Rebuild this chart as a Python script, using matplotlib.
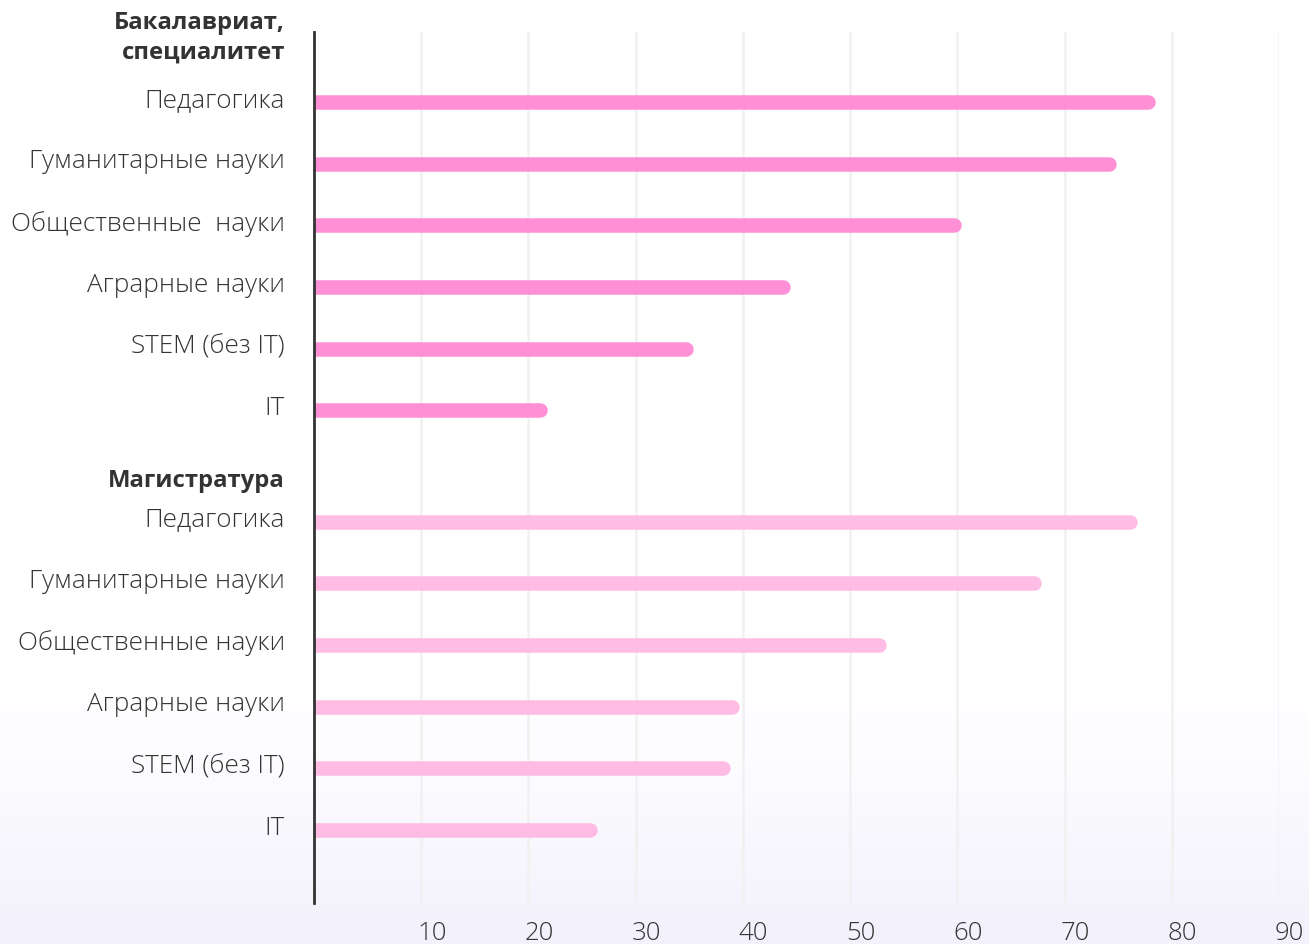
import matplotlib
matplotlib.use("Agg")
import matplotlib.pyplot as plt
import matplotlib.transforms as mtransforms
import numpy as np
from matplotlib.colors import LinearSegmentedColormap

plt.rcParams['font.family'] = ['Open Sans', 'DejaVu Sans']

# ---- data ----
group_titles = ["Бакалавриат,\nспециалитет", "Магистратура"]
cats_bak = ["Педагогика", "Гуманитарные науки", "Общественные  науки",
            "Аграрные науки", "STEM (без IT)", "IT"]
cats_mag = ["Педагогика", "Гуманитарные науки", "Общественные науки",
            "Аграрные науки", "STEM (без IT)", "IT"]
vals_bak = [78.5, 74.8, 60.4, 44.4, 35.4, 21.8]
vals_mag = [76.8, 67.8, 53.4, 39.7, 38.8, 26.4]
xticks = [10, 20, 30, 40, 50, 60, 70, 80, 90]

col_bak = "#ff8cd4"
col_mag = "#ffbae4"
text_col = "#333333"

W, H = 1309, 944
fig = plt.figure(figsize=(W / 100, H / 100), dpi=100)

# background gradient
bg = fig.add_axes([0, 0, 1, 1], zorder=-10)
bg.set_axis_off()
grad = np.linspace(0, 1, 256).reshape(-1, 1)
cmap = LinearSegmentedColormap.from_list(
    "g", [(0, "#f3f1fc"), (0.08, "#f7f6fd"), (0.2, "#fdfcff"), (0.28, "#ffffff"), (1, "#ffffff")])
bg.imshow(grad, aspect="auto", cmap=cmap, extent=[0, 1, 0, 1], origin="lower")

# axes spanning x=0 at px 314, x=90 at px 1279; top 32px, bottom 903px
x0, x1 = 314, 1279
ytop, ybot = 32, 903
ax = fig.add_axes([x0 / W, 1 - ybot / H, (x1 - x0) / W, (ybot - ytop) / H])
ax.patch.set_alpha(0)
ax.set_xlim(0, 90)

step = 61.7
first_px = 102
gap_rows = 1.8
pos_bak = [i for i in range(len(cats_bak))]
pos_mag = [len(cats_bak) - 1 + gap_rows + i for i in range(len(cats_mag))]
ylim_top = -(first_px - ytop) / step
ylim_bot = (ybot - first_px) / step
ax.set_ylim(ylim_bot, ylim_top)

for s in ["top", "right", "bottom"]:
    ax.spines[s].set_visible(False)
ax.spines["left"].set_color("#333333")
ax.spines["left"].set_linewidth(2)
ax.spines["left"].set_zorder(5)

ax.set_xticks(xticks)
ax.set_xticklabels([str(t) for t in xticks])
ax.tick_params(axis="x", length=0, pad=13, labelsize=18.5, labelcolor=text_col)
shift = mtransforms.ScaledTranslation(-4 / 100, 0, fig.dpi_scale_trans)
for lab in ax.get_xticklabels():
    lab.set_horizontalalignment("left")
    lab.set_fontweight("light")
    lab.set_transform(lab.get_transform() + shift)
ax.set_yticks([])
ax.grid(axis="x", color="#f1f1f1", linewidth=1.8, zorder=0)
ax.set_axisbelow(True)

# bars with rounded right ends
lw_px = 14.5
lw_pt = lw_px * 72 / 100
r_units = (lw_px / 2) / ((x1 - x0) / 90)
for pos, v in zip(pos_bak, vals_bak):
    ax.plot([-5, v - r_units], [pos, pos], color=col_bak, lw=lw_pt,
            solid_capstyle="round", zorder=3, alpha=0.97)
for pos, v in zip(pos_mag, vals_mag):
    ax.plot([-5, v - r_units], [pos, pos], color=col_mag, lw=lw_pt,
            solid_capstyle="round", zorder=3, alpha=0.97)

# labels
lab_x = -29 / ((x1 - x0) / 90)
fs = 18.8
for pos, c in zip(pos_bak, cats_bak):
    ax.text(lab_x, pos - 0.03, c, ha="right", va="center", fontsize=fs,
            fontweight="light", color=text_col, clip_on=False)
for pos, c in zip(pos_mag, cats_mag):
    ax.text(lab_x, pos - 0.03, c, ha="right", va="center", fontsize=fs,
            fontweight="light", color=text_col, clip_on=False)

ax.text(lab_x, pos_bak[0] - (102 - 38) / step, group_titles[0], ha="right",
        va="center", fontsize=17.2, fontweight="bold", color=text_col,
        linespacing=1.28, clip_on=False)
ax.text(lab_x, pos_mag[0] - (521 - 480) / step, group_titles[1], ha="right",
        va="center", fontsize=17.2, fontweight="bold", color=text_col,
        clip_on=False)

fig.savefig("out.png", dpi=100)
